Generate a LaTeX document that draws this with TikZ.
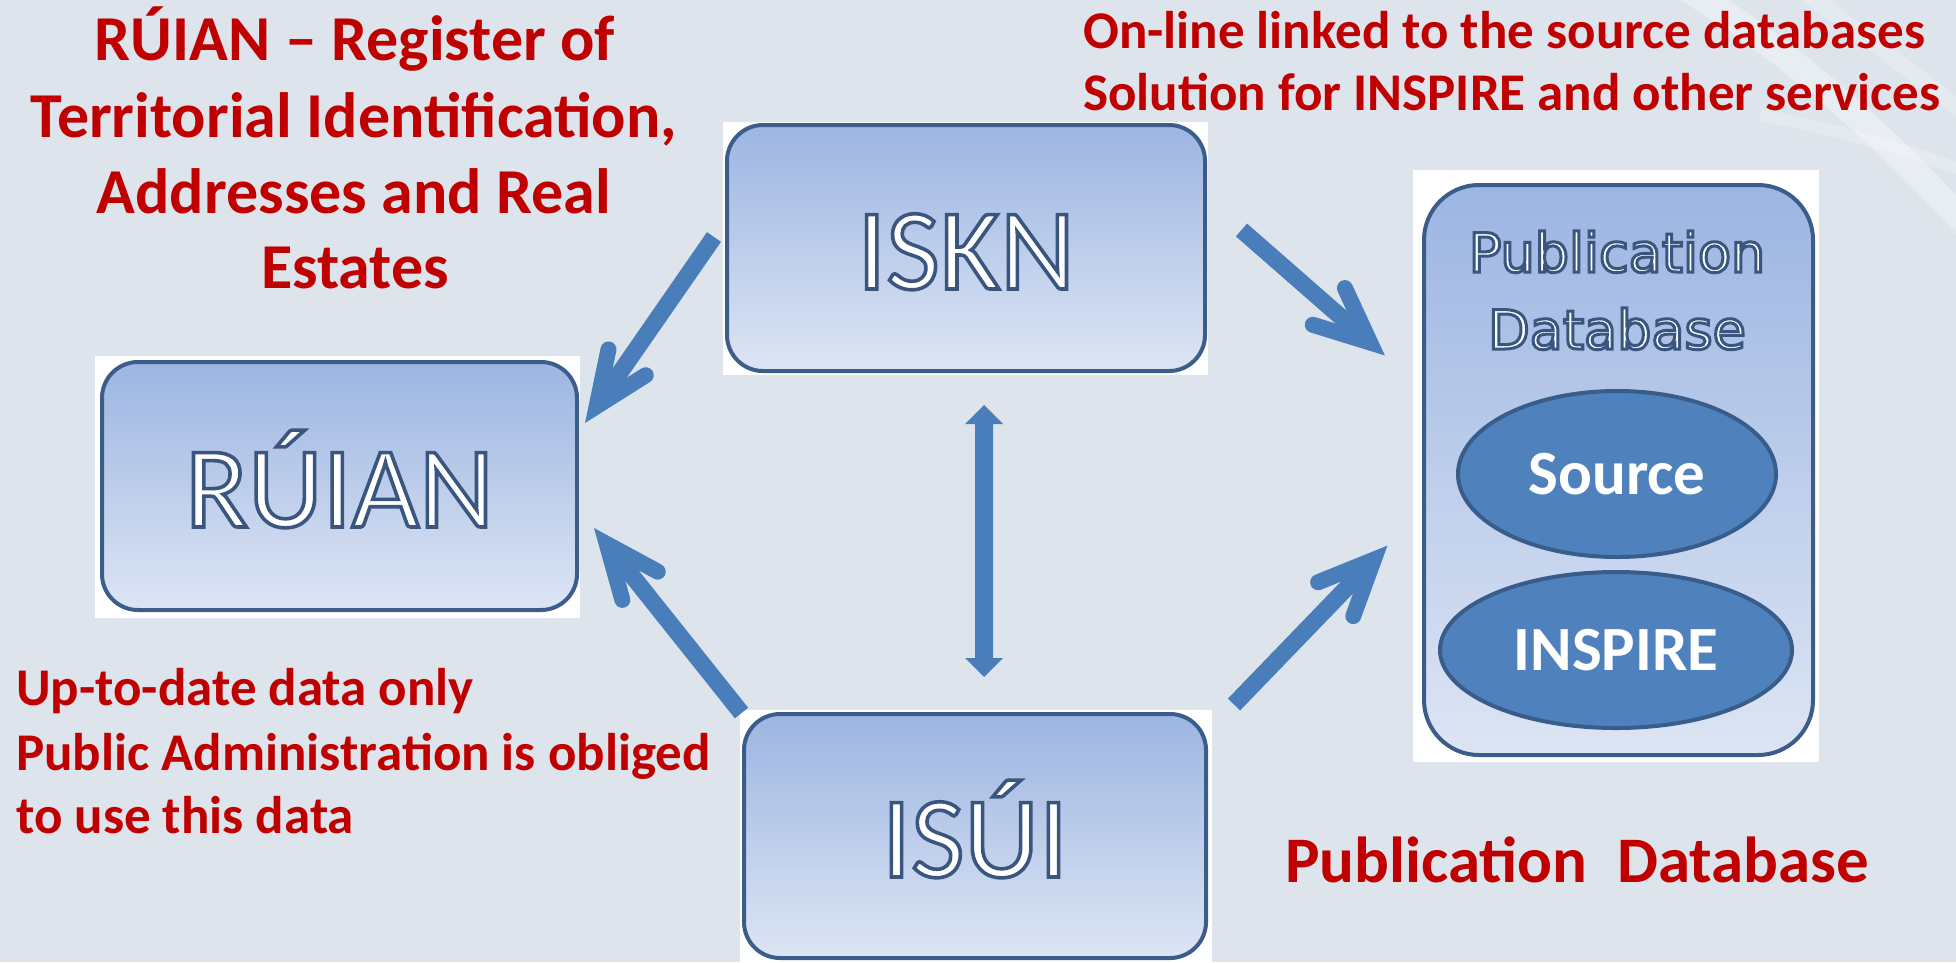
\documentclass[tikz,border=0pt]{standalone}
\usepackage{fontspec}
\setmainfont{Carlito}
\newfontfamily\pubfont{DejaVu Sans}
\usetikzlibrary{calc,shapes.geometric}
\definecolor{bg}{RGB}{221,228,236}
\definecolor{redt}{RGB}{192,0,0}
\definecolor{bord}{RGB}{60,93,137}
\definecolor{btop}{RGB}{156,181,226}
\definecolor{bbot}{RGB}{221,229,244}
\definecolor{arr}{RGB}{74,126,187}
\definecolor{ellf}{RGB}{79,129,189}
\definecolor{elld}{RGB}{56,93,138}
% outlined white text: fill white, stroke dark blue (text render mode 2)
\newcommand\oltext[2][3.6]{%
  \special{pdf:literal q 2 Tr #1 w 0.227 0.337 0.494 RG 1 1 1 rg}%
  #2%
  \special{pdf:literal 0 Tr Q}%
}
\newcommand\openarrow[4]{% tail, tip, barb angle, barb length
  \coordinate (#2v) at ($(#2)!20.5pt!(#1)$);
  \draw[shaft] (#1) -- ($(#2)!24pt!(#1)$);
  \draw[barb] ($(#2v)!#4!#3:(#1)$) -- (#2v) -- ($(#2v)!#4!-#3:(#1)$);
}
\begin{document}
\begin{tikzpicture}[x=1pt,y=-1pt,
  box/.style={draw=bord, line width=4pt, rounded corners=36pt, top color=btop, bottom color=bbot,
    inner sep=0pt, outer sep=0pt, text height=82pt, text depth=0pt, font=\fontsize{116}{120}\selectfont},
  whitebg/.style={fill=white},
  ell/.style={ellipse, draw=elld, line width=4pt, fill=ellf, inner sep=0pt, text=white,
    font=\bfseries\fontsize{63}{70}\selectfont},
  redtxt/.style={text=redt, font=\bfseries\fontsize{53}{60}\selectfont, inner sep=0pt},
  bigred/.style={text=redt, font=\bfseries\fontsize{64}{70}\selectfont, inner sep=0pt},
  pubtxt/.style={font=\pubfont\fontsize{54}{60}\selectfont, inner sep=0pt},
  shaft/.style={draw=arr, line width=17pt},
  barb/.style={draw=arr, line width=16pt, line cap=round, line join=miter, miter limit=10}]
\useasboundingbox (0,0) rectangle (1956,962);
\fill[bg] (0,0) rectangle (1956,962);
% faint swooshes top right
\draw[white, opacity=0.35, line width=26pt] (1680,-15) .. controls (1790,50) and (1890,140) .. (1975,235);
\draw[white, opacity=0.25, line width=12pt] (1760,115) .. controls (1840,130) and (1910,150) .. (1975,175);
\draw[white, opacity=0.25, line width=16pt] (1800,-10) .. controls (1860,30) and (1920,80) .. (1975,120);

% white backgrounds of the pasted boxes
\fill[whitebg] (723,122) rectangle (1208,375);
\fill[whitebg] (95,356) rectangle (580,618);
\fill[whitebg] (740,710) rectangle (1212,962);
\fill[whitebg] (1413,170) rectangle (1819,762);

% boxes
\node[box, minimum width=478pt, minimum height=246pt] (iskn) at (966,248) {\oltext{ISKN}};
\node[box, minimum width=475pt, minimum height=248pt] (ruian) at (339.5,486) {\oltext{RÚIAN}};
\node[box, minimum width=462pt, minimum height=244pt] (isui) at (975,836) {\oltext{ISÚI}};
\node[box, rounded corners=55pt, minimum width=389pt, minimum height=570pt] (pub) at (1618.5,470) {};
\node[pubtxt, anchor=base] (pubt1) at (1617,272) {\oltext[3]{Publication}};
\node[pubtxt, anchor=base] (pubt2) at (1617,349) {\oltext[3]{Database}};
\node[ell, minimum width=318pt, minimum height=166pt] (src) at (1617,474) {Source};
\node[ell, minimum width=352pt, minimum height=156pt] (insp) at (1616,650) {INSPIRE};

% red texts
\node[bigred, anchor=base] (t1) at (355,60) {RÚIAN – Register of};
\node[bigred, anchor=base] (t2) at (354,137) {Territorial Identification,};
\node[bigred, anchor=base] (t3) at (354,213) {Addresses and Real};
\node[bigred, anchor=base] (t4) at (355,288) {Estates};
\node[redtxt, anchor=base west] (r1) at (1083,48) {On-line linked to the source databases};
\node[redtxt, anchor=base west] (r2) at (1083,110) {Solution for INSPIRE and other services};
\node[redtxt, anchor=base west] (b1) at (16,705) {Up-to-date data only};
\node[redtxt, anchor=base west] (b2) at (16,770) {Public Administration is obliged};
\node[redtxt, anchor=base west] (b3) at (16,833) {to use this data};
\node[bigred, font=\bfseries\fontsize{65}{70}\selectfont, anchor=base west] (pd) at (1285,882) {Publication\ \ Database};

% arrows
\coordinate (a1t) at (714,237);   \coordinate (a1p) at (585,423);
\coordinate (a2t) at (741.5,713); \coordinate (a2p) at (594,528);
\coordinate (a3t) at (1241.5,230);\coordinate (a3p) at (1385.5,356);
\coordinate (a4t) at (1234,704.5);\coordinate (a4p) at (1388,545);
\openarrow{a1t}{a1p}{23}{58pt}
\openarrow{a2t}{a2p}{23}{58pt}
\openarrow{a3t}{a3p}{24}{60pt}
\openarrow{a4t}{a4p}{24}{60pt}
% double arrow between ISKN and ISUI
\coordinate (dt) at (984,405);
\coordinate (db) at (984,677);
\fill[arr] (dt) -- ++(19,19) -- ++(-10,0) -- ($(db)+(9,-19)$) -- ++(10,0) -- (db)
  -- ++(-19,-19) -- ++(10,0) -- ($(dt)+(-9,19)$) -- ++(-10,0) -- cycle;
\end{tikzpicture}
\end{document}
